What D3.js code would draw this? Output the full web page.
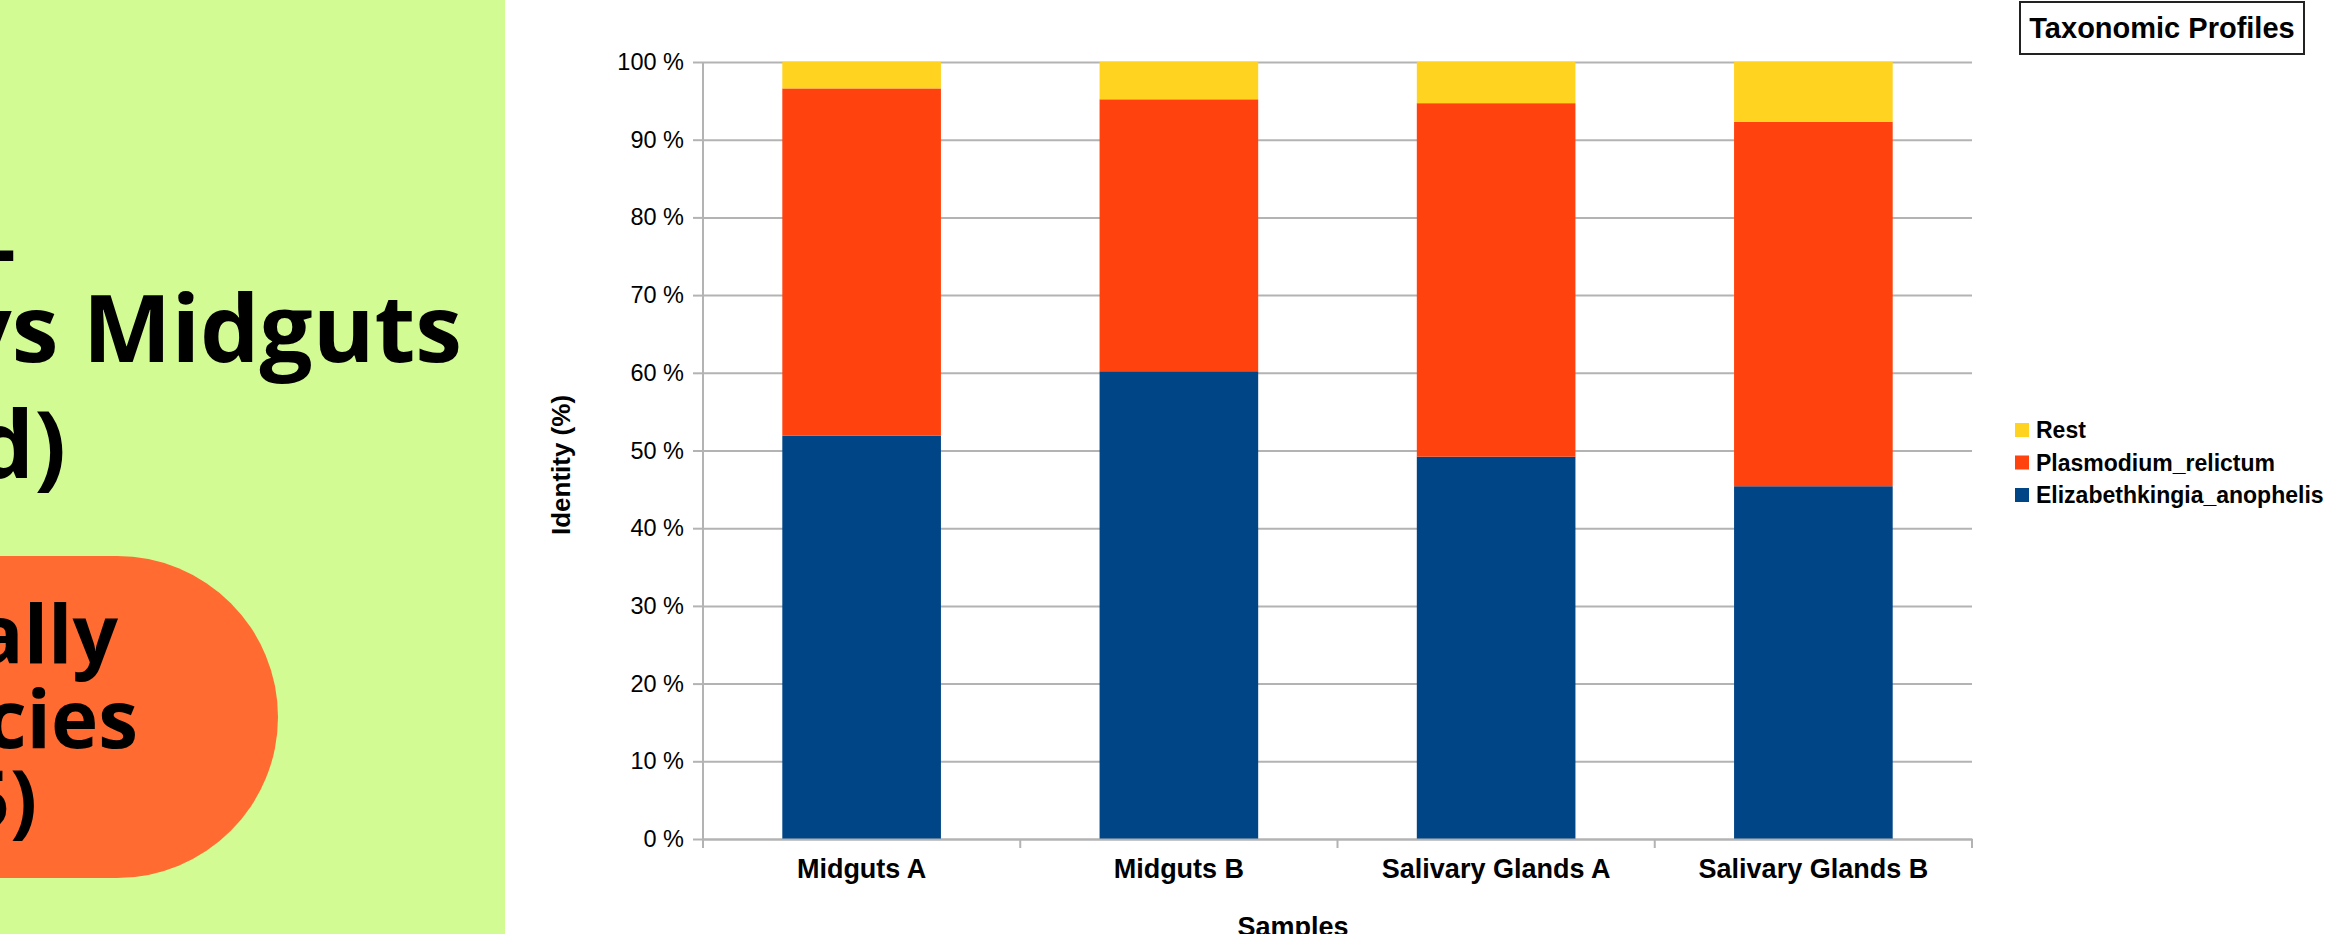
<!DOCTYPE html>
<html><head><meta charset="utf-8">
<script src="https://cdn.jsdelivr.net/npm/d3@7"></script>
<style>
html,body{margin:0;padding:0;background:#fff;}
svg{display:block;}
</style></head>
<body>
<svg id="c" width="2326" height="934"></svg>
<script>
const categories = ["Midguts A", "Midguts B", "Salivary Glands A", "Salivary Glands B"];
const seriesNames = ["Elizabethkingia_anophelis", "Plasmodium_relictum", "Rest"];
const elizabethkingia = [51.9, 60.2, 49.2, 45.4];
const plasmodium = [44.7, 35.0, 45.5, 46.9];
const rest = [3.4, 4.8, 5.3, 7.7];
const yTicks = [0, 10, 20, 30, 40, 50, 60, 70, 80, 90, 100];
const colors = ["#004586", "#ff420e", "#ffd320"];
const legendOrder = ["Rest", "Plasmodium_relictum", "Elizabethkingia_anophelis"];

const svg = d3.select("#c");

// Left decorative panel (clipped slide)
svg.append("rect").attr("x", 0).attr("y", 0).attr("width", 505).attr("height", 934).attr("fill", "#d3fb93");
svg.append("rect").attr("x", -300).attr("y", 556).attr("width", 578).attr("height", 322)
  .attr("rx", 161).attr("ry", 161).attr("fill", "#ff6b30");
const tf = "'Open Sans', 'Noto Sans', sans-serif";
const titleLines = [["\u2013", 17, 281], ["vs Midguts", 462, 362], ["d)", 66, 478]];
titleLines.forEach(([t, x, y]) => svg.append("text").attr("x", x).attr("y", y).attr("text-anchor", "end")
  .attr("font-family", tf).attr("font-weight", 700).attr("font-size", 94).attr("fill", "#000").text(t));
const pillLines = [["ally", 118, 663], ["cies", 138, 748], ["5)", 37, 828]];
pillLines.forEach(([t, x, y]) => svg.append("text").attr("x", x).attr("y", y).attr("text-anchor", "end")
  .attr("font-family", tf).attr("font-weight", 700).attr("font-size", 80).attr("fill", "#000").text(t));

// Chart
const L = 703, R = 1972, T = 62, B = 839;
const ff = "'Liberation Sans', Arial, sans-serif";
const x = d3.scaleBand().domain(categories).range([L, R]).paddingInner(0.5).paddingOuter(0.25);
const y = d3.scaleLinear().domain([0, 100]).range([B, T]);

// gridlines
const grid = svg.append("g").attr("transform", `translate(${L},0)`)
  .call(d3.axisLeft(y).tickValues(yTicks).tickSize(-(R - L)).tickFormat(""));
grid.selectAll("line").attr("stroke", "#b3b3b3").attr("stroke-width", 2);
grid.select(".domain").remove();

// stacked bars
const rows = categories.map((c, i) => ({cat: c, Elizabethkingia_anophelis: elizabethkingia[i], Plasmodium_relictum: plasmodium[i], Rest: rest[i]}));
const stack = d3.stack().keys(seriesNames)(rows);
svg.append("g").selectAll("g").data(stack).join("g")
  .attr("fill", (d, i) => colors[i])
  .selectAll("rect").data(d => d).join("rect")
  .attr("x", d => x(d.data.cat)).attr("width", x.bandwidth())
  .attr("y", d => y(d[1])).attr("height", d => y(d[0]) - y(d[1]));

// y axis
const ya = svg.append("g").attr("transform", `translate(${L},0)`)
  .call(d3.axisLeft(y).tickValues(yTicks).tickSize(10).tickPadding(9).tickFormat(d => d + " %"));
ya.selectAll("line").attr("stroke", "#b3b3b3").attr("stroke-width", 2);
ya.select(".domain").remove();
ya.selectAll("text").attr("font-family", ff).attr("font-size", 23.5).attr("fill", "#000");
svg.append("line").attr("x1", L).attr("x2", L).attr("y1", T).attr("y2", B + 9).attr("stroke", "#b3b3b3").attr("stroke-width", 2);

// x axis
const xa = svg.append("g").attr("transform", `translate(0,${B})`)
  .call(d3.axisBottom(x).tickSize(0).tickPadding(20));
xa.select(".domain").attr("stroke", "#b3b3b3").attr("stroke-width", 2);
xa.selectAll("text").attr("font-family", ff).attr("font-weight", 700).attr("font-size", 27).attr("fill", "#000");
const bounds = categories.map(c => x(c) - x.step() * 0.25).concat([R]);
svg.append("g").selectAll("line").data(bounds).join("line")
  .attr("x1", d => d).attr("x2", d => d).attr("y1", B).attr("y2", B + 9)
  .attr("stroke", "#b3b3b3").attr("stroke-width", 2);

// axis titles
svg.append("text").attr("transform", "translate(570,465) rotate(-90)").attr("text-anchor", "middle")
  .attr("font-family", ff).attr("font-weight", 700).attr("font-size", 26).attr("fill", "#000").text("Identity (%)");
svg.append("text").attr("x", 1293).attr("y", 936).attr("text-anchor", "middle")
  .attr("font-family", ff).attr("font-weight", 700).attr("font-size", 27).attr("fill", "#000").text("Samples");

// legend
svg.append("rect").attr("x", 2020).attr("y", 2).attr("width", 284).attr("height", 52)
  .attr("fill", "#fff").attr("stroke", "#222").attr("stroke-width", 2);
svg.append("text").attr("x", 2162).attr("y", 38).attr("text-anchor", "middle")
  .attr("font-family", ff).attr("font-weight", 700).attr("font-size", 29).attr("fill", "#000").text("Taxonomic Profiles");
const lg = svg.append("g").selectAll("g").data(legendOrder).join("g")
  .attr("transform", (d, i) => `translate(2015,${438 + i * 32.5})`);
lg.append("rect").attr("x", 0).attr("y", -15).attr("width", 14).attr("height", 14)
  .attr("fill", d => colors[seriesNames.indexOf(d)]);
lg.append("text").attr("x", 21).attr("y", 0).attr("font-family", ff).attr("font-weight", 700)
  .attr("font-size", 23).attr("fill", "#000").text(d => d);
</script>
</body></html>
